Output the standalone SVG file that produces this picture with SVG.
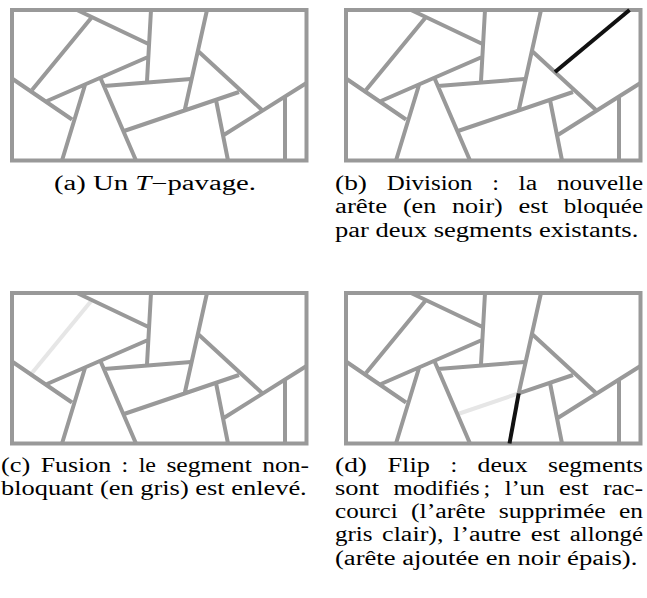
<svg xmlns="http://www.w3.org/2000/svg" width="647" height="598" viewBox="0 0 647 598">
<style>
.g{stroke:#999;stroke-width:4;fill:none;stroke-linejoin:miter}
.lt{stroke:#e6e6e6;stroke-width:4;fill:none}
.bk{stroke:#111;stroke-width:4;fill:none}
text{font-family:"Liberation Serif","Times New Roman",serif;font-size:20px;fill:#000}
</style>
<defs>
<g id="common" class="g">
<rect x="12" y="10" width="294.5" height="150.5"/>
<path d="M77,10 L148.5,44 M12,78.5 L72,119.5 M151,10 L147,81 M47,101 L148,57 M85,85 L62,160.5 M100,77 L136,160.5 M104,86 L191,79 M198,51 L262,110 M216,100 L228,160.5 M223,135.5 L306.5,83 M285,97 L285,160.5"/>
</g>
</defs>
<g id="panel-a">
<use href="#common"/>
<path class="g" d="M92,17 L32,90 M207,10 L184.7,110.3 M124,131 L239,92"/>
</g>
<g id="panel-b" transform="translate(334,0)">
<use href="#common"/>
<path class="g" d="M92,17 L32,90 M207,10 L184.7,110.3 M124,131 L239,92"/>
<path class="bk" d="M221,72 L295.5,10"/>
</g>
<g id="panel-c" transform="translate(0,283)">
<path class="lt" d="M92,17 L32,90"/>
<use href="#common"/>
<path class="g" d="M207,10 L184.7,110.3 M124,131 L239,92"/>
</g>
<g id="panel-d" transform="translate(334,283)">
<path class="lt" d="M124,131 L184.7,110.3"/>
<use href="#common"/>
<path class="g" d="M92,17 L32,90 M207,10 L184.7,110.3 M184.7,110.3 L239,92"/>
<path class="bk" d="M184.7,110.3 L175.5,160.5"/>
</g>
<g id="caption-a">
<text x="155" y="190" text-anchor="middle" textLength="202" lengthAdjust="spacingAndGlyphs">(a) Un <tspan font-style="italic">T</tspan>−pavage.</text>
</g>
<g id="caption-b">
<text x="335" y="190" textLength="32" lengthAdjust="spacingAndGlyphs">(b)</text>
<text x="386.7" y="190" textLength="85.8" lengthAdjust="spacingAndGlyphs">Division</text>
<text x="492.2" y="190" textLength="6.7" lengthAdjust="spacingAndGlyphs">:</text>
<text x="518.6" y="190" textLength="18.7" lengthAdjust="spacingAndGlyphs">la</text>
<text x="557" y="190" textLength="86" lengthAdjust="spacingAndGlyphs">nouvelle</text>
<text x="335" y="213.3" textLength="52.1" lengthAdjust="spacingAndGlyphs">arête</text>
<text x="402.9" y="213.3" textLength="33.3" lengthAdjust="spacingAndGlyphs">(en</text>
<text x="452" y="213.3" textLength="50.8" lengthAdjust="spacingAndGlyphs">noir)</text>
<text x="518.6" y="213.3" textLength="29.4" lengthAdjust="spacingAndGlyphs">est</text>
<text x="563.8" y="213.3" textLength="79.3" lengthAdjust="spacingAndGlyphs">bloquée</text>
<text x="335" y="236.6" textLength="303.3" lengthAdjust="spacingAndGlyphs">par deux segments existants.</text>
</g>
<g id="caption-c">
<text x="1" y="471.5" textLength="29.3" lengthAdjust="spacingAndGlyphs">(c)</text>
<text x="40.7" y="471.5" textLength="70.5" lengthAdjust="spacingAndGlyphs">Fusion</text>
<text x="121.6" y="471.5" textLength="6.7" lengthAdjust="spacingAndGlyphs">:</text>
<text x="138.7" y="471.5" textLength="17.3" lengthAdjust="spacingAndGlyphs">le</text>
<text x="166.4" y="471.5" textLength="85.4" lengthAdjust="spacingAndGlyphs">segment</text>
<text x="262.2" y="471.5" textLength="46.7" lengthAdjust="spacingAndGlyphs">non-</text>
<text x="1" y="494.8" textLength="305.7" lengthAdjust="spacingAndGlyphs">bloquant (en gris) est enlevé.</text>
</g>
<g id="caption-d">
<text x="335" y="471.5" textLength="32" lengthAdjust="spacingAndGlyphs">(d)</text>
<text x="387.5" y="471.5" textLength="42.4" lengthAdjust="spacingAndGlyphs">Flip</text>
<text x="450.4" y="471.5" textLength="6.7" lengthAdjust="spacingAndGlyphs">:</text>
<text x="477.6" y="471.5" textLength="50" lengthAdjust="spacingAndGlyphs">deux</text>
<text x="548.1" y="471.5" textLength="94.9" lengthAdjust="spacingAndGlyphs">segments</text>
<text x="335" y="494.8" textLength="44.1" lengthAdjust="spacingAndGlyphs">sont</text>
<text x="393.5" y="494.8" textLength="86.1" lengthAdjust="spacingAndGlyphs">modifiés</text>
<text x="483.6" y="494.8" textLength="6.7" lengthAdjust="spacingAndGlyphs">;</text>
<text x="504.7" y="494.8" textLength="40" lengthAdjust="spacingAndGlyphs">l’un</text>
<text x="559.1" y="494.8" textLength="29.4" lengthAdjust="spacingAndGlyphs">est</text>
<text x="602.9" y="494.8" textLength="40.1" lengthAdjust="spacingAndGlyphs">rac-</text>
<text x="335" y="518.1" textLength="62.7" lengthAdjust="spacingAndGlyphs">courci</text>
<text x="410.9" y="518.1" textLength="74.7" lengthAdjust="spacingAndGlyphs">(l’arête</text>
<text x="498.8" y="518.1" textLength="106.9" lengthAdjust="spacingAndGlyphs">supprimée</text>
<text x="618.9" y="518.1" textLength="24" lengthAdjust="spacingAndGlyphs">en</text>
<text x="335" y="541.4" textLength="37.5" lengthAdjust="spacingAndGlyphs">gris</text>
<text x="382.1" y="541.4" textLength="61.4" lengthAdjust="spacingAndGlyphs">clair),</text>
<text x="453.1" y="541.4" textLength="68.1" lengthAdjust="spacingAndGlyphs">l’autre</text>
<text x="530.8" y="541.4" textLength="29.4" lengthAdjust="spacingAndGlyphs">est</text>
<text x="569.8" y="541.4" textLength="73.3" lengthAdjust="spacingAndGlyphs">allongé</text>
<text x="335" y="564.7" textLength="302.3" lengthAdjust="spacingAndGlyphs">(arête ajoutée en noir épais).</text>
</g>
</svg>
